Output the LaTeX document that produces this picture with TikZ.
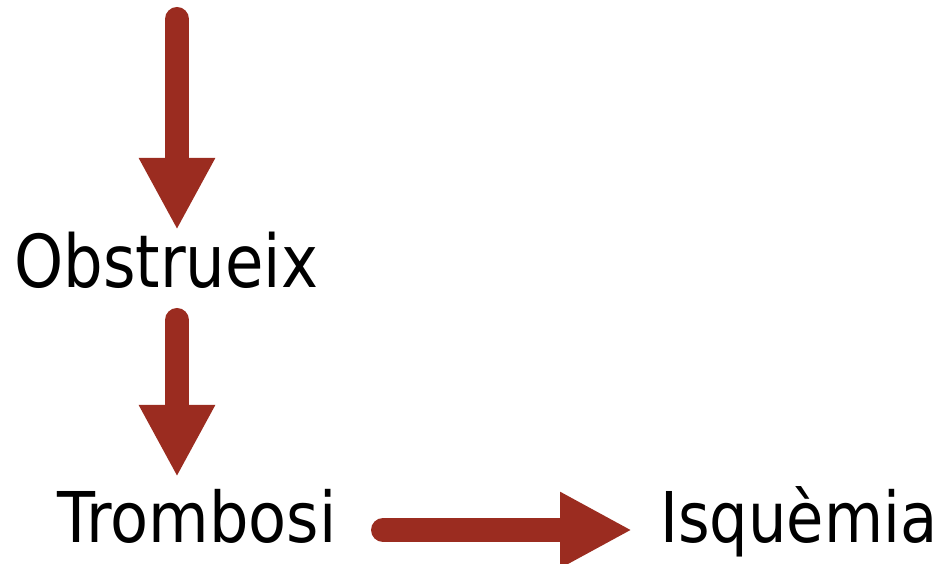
\documentclass[tikz,border=0pt]{standalone}
\usepackage{fontspec}
\setmainfont{DejaVu Sans}
\usepackage{graphicx}
\usetikzlibrary{arrows.meta}
\definecolor{arrowred}{HTML}{9B2C20}
\tikzset{
  bigarrow/.style={draw=arrowred, line width=24pt, line cap=round,
    -{Triangle[length=72pt,width=71pt,fill=arrowred]}},
  label/.style={inner sep=0pt, anchor=base west}
}
\begin{document}
\begin{tikzpicture}[x=1pt,y=1pt]
\useasboundingbox (0,0) rectangle (947,564);
\node[label] (obs) at (14,276) {\resizebox{304pt}{\height}{\fontsize{73}{80}\selectfont Obstrueix}};
\node[label] (tro) at (57,21) {\resizebox{279pt}{\height}{\fontsize{70}{80}\selectfont Trombosi}};
\node[label] (isq) at (660,21) {\resizebox{277pt}{\height}{\fontsize{70}{80}\selectfont Isquèmia}};
\coordinate (s1) at (177,545);
\coordinate (t1) at (177,334);
\coordinate (s2) at (177,244);
\coordinate (t2) at (177,87);
\coordinate (s3) at (383,34);
\coordinate (t3) at (632,34);
\draw[bigarrow] (s1) -- (t1);
\draw[bigarrow] (s2) -- (t2);
\draw[bigarrow] (s3) -- (t3);
\end{tikzpicture}
\end{document}
